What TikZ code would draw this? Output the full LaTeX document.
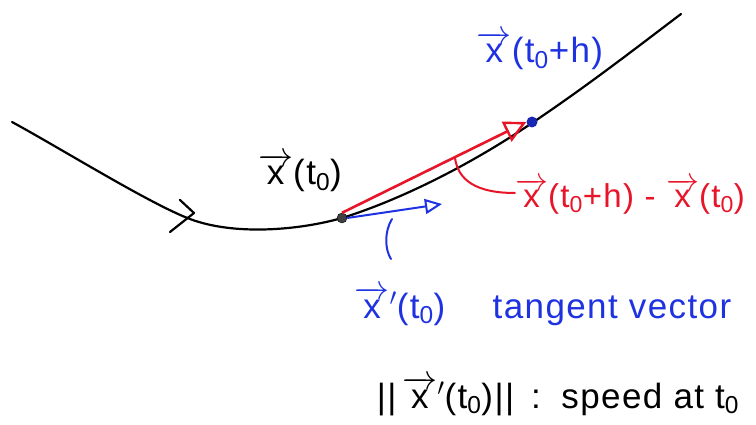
\documentclass[tikz,border=0pt]{standalone}
\usepackage{fix-cm}
\usepackage{amsmath}
\usepackage{fontspec}
\setmainfont[LetterSpace=4]{Liberation Sans}
\usetikzlibrary{arrows.meta}
\definecolor{pred}{RGB}{232,20,40}
\definecolor{pblue}{RGB}{30,50,225}
\newcommand\vx{$\overrightarrow{\text{x}}$}
\newcommand\vxp{$\overrightarrow{\text{x}}{}'$}
\newcommand\tz{t\textsubscript{0}}
\begin{document}
\begin{tikzpicture}[x=1pt,y=-1pt,
  curve/.style={line width=2.2pt, black, line cap=round, line join=round},
  lbl/.style={font=\fontsize{35}{40}\selectfont, inner sep=0pt, anchor=base},
  redvec/.style={pred, line width=2.6pt, -{Triangle[open, length=22pt, width=22pt, line width=2.4pt]}},
  bluevec/.style={pblue, line width=2pt, -{Triangle[open, length=17pt, width=15pt, line width=2pt]}},
  ptr/.style={line width=2pt, line cap=round}]
\useasboundingbox (0,0) rectangle (756,425);
% curve
\draw[curve] (12,122) .. controls (60,148) and (150,204) .. (190,219)
  .. controls (235,236) and (300,230) .. (342,218)
  .. controls (400,200) and (470,165) .. (532,123)
  .. controls (590,84) and (640,45) .. (681,14);
% direction mark
\draw[curve] (180,200) -- (194,213) -- (170,232);
% points
\node[circle, fill=black!75, draw=black, inner sep=0pt, minimum size=10pt] (p0) at (342,218) {};
\node[circle, fill=pblue!80!black, inner sep=0pt, minimum size=11pt] (p1) at (532,122) {};
\coordinate (tip) at (442,204);
% vectors
\draw[redvec] (p0.north) -- (p1.west);
\draw[bluevec] (p0.east) -- (tip);
% labels
\node[lbl] (l0) at (300,185) {\vx(\tz)};
\node[lbl, pblue] (l1) at (540,63) {\vx(\tz+h)};
\node[lbl, pred, font=\fontsize{33}{38}\selectfont] (l2) at (630,208) {\vx(\tz+h) - \vx(\tz)};
\node[lbl, pblue] (l3) at (400,318) {\vxp(\tz)};
\node[lbl, pblue] (l4) at (612,318) {tangent vector};
\node[lbl] (l5) at (558,408) {||\,\vxp(\tz)|| \,:\, speed at \tz};
% pointers
\coordinate (r0) at (455,158);
\draw[ptr, pred] (r0) .. controls (458,180) and (476,193) .. (l2.west |- 0,193);
\coordinate (b0) at (392,219);
\coordinate (b1) at (391,259);
\draw[ptr, pblue] (b0) .. controls (384,232) and (385,250) .. (b1);
\end{tikzpicture}
\end{document}
